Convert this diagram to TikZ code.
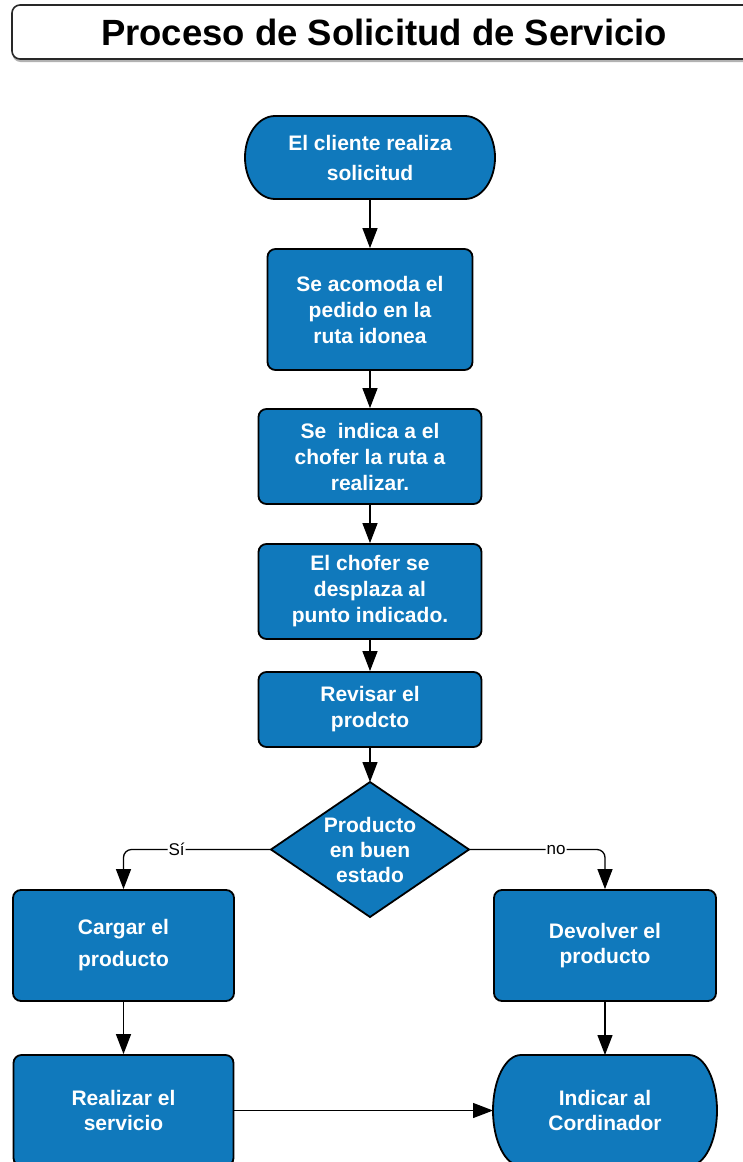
\documentclass[tikz,border=0pt]{standalone}
\usepackage{fontspec}
\setmainfont{Liberation Sans}
\usetikzlibrary{arrows.meta,backgrounds,shadows}

\definecolor{flowblue}{RGB}{16,121,188}
\definecolor{frame}{RGB}{40,40,40}

\tikzset{
  boxtext/.style={font=\bfseries\fontsize{21}{26}\selectfont, text=white, align=center},
  stepbox/.style={boxtext, draw=black, line width=1.8pt, fill=flowblue,
    rounded corners=8pt, inner sep=0pt},
  shapetext/.style={boxtext, draw=none, fill=none, inner sep=0pt, outer sep=0pt},
  shapefill/.style={draw=black, line width=1.8pt, fill=flowblue},
  conn/.style={draw=black, line width=1.3pt, rounded corners=8pt,
    -{Triangle[length=20pt,width=15pt]}},
  lbl/.style={fill=white, text=black, inner sep=1pt,
    font=\fontsize{17}{20}\selectfont},
  titlebox/.style={draw=frame, line width=1.6pt, fill=white, rounded corners=8pt,
    minimum width=744pt, minimum height=54pt, inner sep=0pt,
    font=\bfseries\fontsize{36.5}{40}\selectfont,
    drop shadow={shadow xshift=0.5pt, shadow yshift=-3pt, fill=gray!60, opacity=1}},
}

% terminal with elliptical ends, drawn behind its text node
\newcommand\drawterminal[3]{%
  \begin{pgfonlayer}{background}
    \draw[shapefill] ([xshift=#2]#1.north west) -- ([xshift=-#2]#1.north east)
      arc[start angle=90, end angle=-90, x radius=#2, y radius=#3]
      -- ([xshift=#2]#1.south west)
      arc[start angle=270, end angle=90, x radius=#2, y radius=#3] -- cycle;
  \end{pgfonlayer}}

\begin{document}
\begin{tikzpicture}[x=1pt, y=-1pt]
  \useasboundingbox (0,0) rectangle (743,1162);
  \begin{pgfonlayer}{background}
    \fill[white] (0,0) rectangle (743,1162);
  \end{pgfonlayer}

  % heading
  \node[titlebox] (title) at (384,32) {Proceso de Solicitud de Servicio};

  % main column
  \node[shapetext, minimum width=250pt, minimum height=83pt,
        font=\bfseries\fontsize{21}{30}\selectfont] (start) at (370,157.5)
        {El cliente realiza\\solicitud};
  \drawterminal{start}{30pt}{41.5pt}

  \node[stepbox, minimum width=205pt, minimum height=121pt] (acomoda) at (370,309.5)
        {Se acomoda el\\pedido en la\\ruta idonea};
  \node[stepbox, minimum width=223pt, minimum height=95pt] (indica) at (370,456.5)
        {Se\ \ indica a el\\chofer la ruta a\\realizar.};
  \node[stepbox, minimum width=223pt, minimum height=95pt] (desplaza) at (370,591.5)
        {El chofer se\\desplaza al\\punto indicado.};
  \node[stepbox, minimum width=223pt, minimum height=75pt] (revisar) at (370,709.5)
        {Revisar el\\prodcto};

  \node[shapetext, minimum width=198pt, minimum height=135pt,
        font=\bfseries\fontsize{21}{25}\selectfont] (estado) at (370,849.5)
        {Producto\\en buen\\estado};
  \begin{pgfonlayer}{background}
    \draw[shapefill] (estado.north) -- (estado.east) -- (estado.south)
      -- (estado.west) -- cycle;
  \end{pgfonlayer}

  % branches
  \node[stepbox, minimum width=221pt, minimum height=111pt,
        font=\bfseries\fontsize{21}{32}\selectfont] (cargar) at (123.5,945.5)
        {Cargar el\\producto};
  \node[stepbox, minimum width=222pt, minimum height=111pt,
        font=\bfseries\fontsize{21}{25}\selectfont] (devolver) at (605,945.5)
        {Devolver el\\producto};
  \node[stepbox, minimum width=220pt, minimum height=111pt,
        font=\bfseries\fontsize{21}{25}\selectfont] (servicio) at (123.5,1110.5)
        {Realizar el\\servicio};
  \node[shapetext, minimum width=224pt, minimum height=111pt,
        font=\bfseries\fontsize{21}{25}\selectfont] (coord) at (605,1110.5)
        {Indicar al\\Cordinador};
  \drawterminal{coord}{28pt}{55.5pt}

  % connectors
  \draw[conn] (start) -- (acomoda);
  \draw[conn] (acomoda) -- (indica);
  \draw[conn] (indica) -- (desplaza);
  \draw[conn] (desplaza) -- (revisar);
  \draw[conn] (revisar) -- (estado);
  \draw[conn] (estado.west) -| node[lbl, pos=0.32] {Sí} (cargar.north);
  \draw[conn] (estado.east) -| node[lbl, pos=0.32] {no} (devolver.north);
  \draw[conn] (cargar) -- (servicio);
  \draw[conn] (devolver) -- (coord);
  \draw[conn] (servicio.east) -- (coord.west);
\end{tikzpicture}
\end{document}
